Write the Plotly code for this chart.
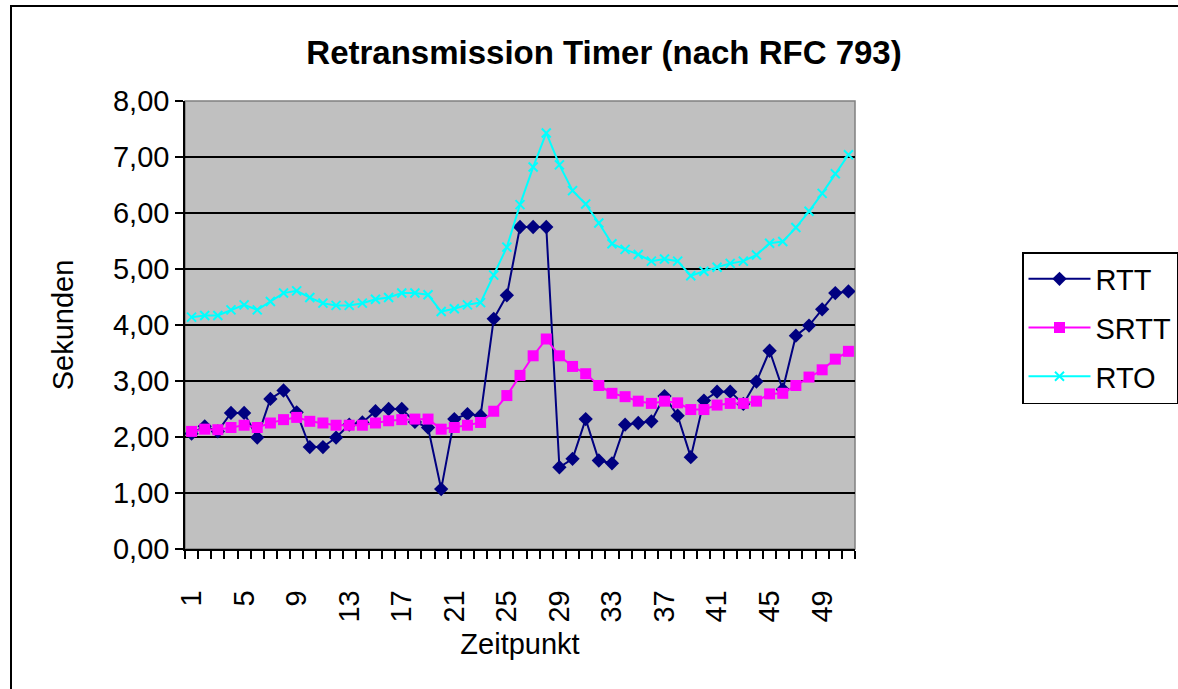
import plotly.graph_objects as go

zeitpunkt = list(range(1, 52))
rtt = [2.06, 2.19, 2.10, 2.43, 2.43, 1.99, 2.68, 2.83, 2.44, 1.82, 1.82, 1.99, 2.22, 2.26, 2.46, 2.50, 2.50,
       2.27, 2.17, 1.07, 2.32, 2.41, 2.38, 4.11, 4.53, 5.75, 5.75, 5.75, 1.46, 1.61, 2.32, 1.58, 1.53, 2.22,
       2.25, 2.28, 2.73, 2.38, 1.64, 2.65, 2.81, 2.81, 2.59, 2.99, 3.54, 2.85, 3.81, 3.99, 4.28, 4.57, 4.60]
srtt = [2.10, 2.14, 2.13, 2.17, 2.21, 2.17, 2.25, 2.31, 2.35, 2.28, 2.25, 2.21, 2.21, 2.21, 2.25, 2.29, 2.31,
        2.32, 2.32, 2.14, 2.17, 2.21, 2.26, 2.46, 2.74, 3.10, 3.45, 3.75, 3.45, 3.26, 3.13, 2.92, 2.78, 2.72,
        2.64, 2.60, 2.64, 2.61, 2.49, 2.49, 2.57, 2.60, 2.60, 2.64, 2.77, 2.78, 2.92, 3.07, 3.20, 3.39, 3.53]
rto = [4.14, 4.17, 4.17, 4.27, 4.36, 4.27, 4.42, 4.57, 4.61, 4.49, 4.39, 4.35, 4.35, 4.39, 4.46, 4.49, 4.57,
       4.57, 4.54, 4.24, 4.29, 4.36, 4.40, 4.89, 5.39, 6.15, 6.82, 7.43, 6.86, 6.40, 6.16, 5.82, 5.45, 5.35,
       5.26, 5.14, 5.18, 5.14, 4.88, 4.96, 5.03, 5.10, 5.14, 5.25, 5.46, 5.49, 5.74, 6.03, 6.35, 6.70, 7.04]

FONT = "Liberation Sans, Arial, sans-serif"
W, H = 1178, 689
L, R, T, B = 185, 323, 101, 140
pw, ph = W - L - R, H - T - B

def px(x):
    return (x - L) / pw

def py(y):
    return (H - B - y) / ph

fig = go.Figure()
fig.add_trace(go.Scatter(x=zeitpunkt, y=rtt, name="RTT", mode="lines+markers", legendgroup="a",
                         line=dict(color="#000080", width=2),
                         marker=dict(symbol="diamond", size=11, color="#000080")))
fig.add_trace(go.Scatter(x=zeitpunkt, y=srtt, name="SRTT", mode="lines+markers", legendgroup="b",
                         line=dict(color="#FF00FF", width=2),
                         marker=dict(symbol="square", size=11, color="#FF00FF")))
fig.add_trace(go.Scatter(x=zeitpunkt, y=rto, name="RTO", mode="lines+markers", legendgroup="c",
                         line=dict(color="#00FFFF", width=2),
                         marker=dict(symbol="x-thin", size=9, color="#00FFFF",
                                     line=dict(color="#00FFFF", width=2))))

fig.update_layout(
    width=W, height=H,
    margin=dict(l=L, r=R, t=T, b=B, autoexpand=False),
    paper_bgcolor="white", plot_bgcolor="#C0C0C0",
    separators=",.",
    font=dict(family=FONT, size=29, color="black"),
    title=dict(text="<b>Retransmission Timer (nach RFC 793)</b>", x=604 / W, xanchor="center",
               y=1 - 52 / H, yanchor="middle", xref="container", yref="container",
               font=dict(family=FONT, size=33, color="black")),
    showlegend=True,
    legend=dict(x=px(1022), y=py(252), xanchor="left", yanchor="top",
                bordercolor="black", borderwidth=1.5, bgcolor="white",
                font=dict(family=FONT, size=29, color="black"),
                traceorder="grouped", tracegroupgap=8, itemwidth=62,
                entrywidth=175, entrywidthmode="pixels"),
    xaxis=dict(range=[0.5, 51.5], tickmode="linear", tick0=1, dtick=4, tickangle=-90,
               ticks="", showgrid=False, zeroline=False,
               showline=True, linecolor="black", linewidth=1.5,
               ticklabelstandoff=28,
               minor=dict(ticks="outside", ticklen=8, tickwidth=1.5, tickcolor="black",
                          tick0=0.5, dtick=1, showgrid=False),
               title=dict(text="Zeitpunkt", standoff=12, font=dict(size=29))),
    yaxis=dict(range=[0, 8], tickmode="linear", tick0=0, dtick=1, tickformat=".2f",
               ticks="outside", ticklen=8, tickwidth=1.5, tickcolor="black",
               showgrid=True, gridcolor="black", gridwidth=1.5, zeroline=False,
               showline=True, linecolor="black", linewidth=1.5,
               title=dict(text="Sekunden", standoff=31, font=dict(size=29))),
    shapes=[
        dict(type="rect", xref="paper", yref="paper", x0=0, x1=1, y0=0, y1=1,
             line=dict(color="#808080", width=1.5), layer="below"),
        dict(type="rect", xref="paper", yref="paper", x0=px(11), x1=px(1200), y0=py(700), y1=py(6),
             line=dict(color="black", width=2), layer="below"),
    ],
)

fig.write_html("out.html", config={"displayModeBar": False},
               post_script="document.body.style.margin='0px';")
